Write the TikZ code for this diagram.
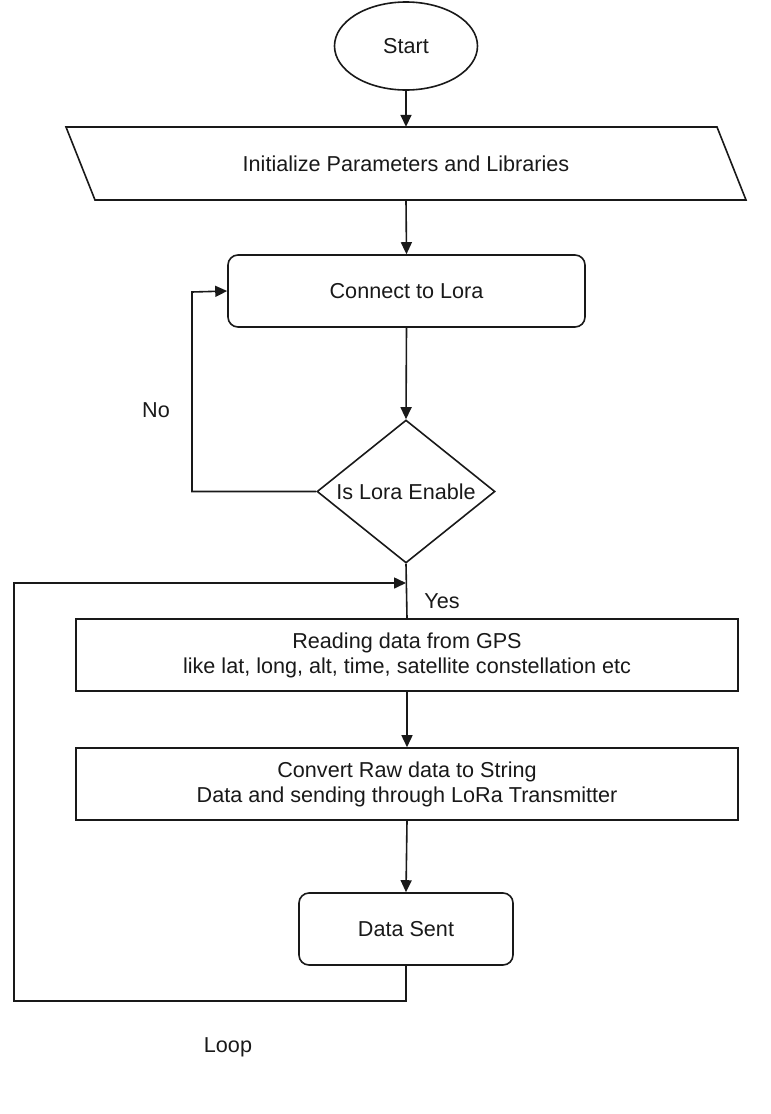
\documentclass[tikz,border=0pt]{standalone}
\usepackage{fontspec}
\setmainfont{Liberation Sans}
\usetikzlibrary{shapes.geometric,arrows.meta}
\begin{document}
\begin{tikzpicture}[x=1pt,y=-1pt,
  every node/.style={font=\fontsize{21.6}{25}\selectfont, text=black!90},
  line/.style={draw=black!90, line width=1.6pt},
  arr/.style={line, -{Triangle[length=12pt,width=11pt]}},
  box/.style={line, rectangle, minimum width=662pt, minimum height=72pt, align=center, inner sep=0pt},
  rbox/.style={line, rectangle, rounded corners=10pt, align=center, inner sep=0pt},
  lbl/.style={inner sep=0pt}]
\useasboundingbox (0,0) rectangle (771,1114);
\node[line, ellipse, minimum width=143pt, minimum height=88pt, inner sep=0pt] (start) at (406,46) {Start};
\node[minimum width=652pt, minimum height=73pt, inner sep=0pt] (init) at (406,163.5) {Initialize Parameters and Libraries};
\draw[line] ([shift={(-311,36.5)}]init.center) -- ([shift={(340,36.5)}]init.center) -- ([shift={(311,-36.5)}]init.center) -- ([shift={(-340,-36.5)}]init.center) -- cycle;
\node[rbox, minimum width=357pt, minimum height=72pt] (conn) at (406.5,291) {Connect to Lora};
\node[line, diamond, minimum width=178pt, minimum height=143pt, inner sep=0pt] (dec) at (406,491.5) {};
\node[lbl] (declbl) at (dec.center) {Is Lora Enable};
\node[box] (read) at (407,655) {Reading data from GPS\\like lat, long, alt, time, satellite constellation etc};
\node[box] (conv) at (407,784) {Convert Raw data to String\\Data and sending through LoRa Transmitter};
\node[rbox, minimum width=214pt, minimum height=72pt] (sent) at (406,929) {Data Sent};
\node[lbl] (no) at (156,410) {No};
\node[lbl] (yes) at (442,601) {Yes};
\node[lbl] (loop) at (228,1047) {Loop};
\coordinate (join) at (406,583);
\draw[arr] (start.south) -- (init.north);
\draw[arr] (init.south) -- (conn.north);
\draw[arr] (conn.south) -- (dec.north);
\draw[arr] (dec.west) -- (192,491.5) -- (192,292) -- (conn.west);
\draw[line] (dec.south) -- (read.north);
\draw[arr] (read.south) -- (conv.north);
\draw[arr] (conv.south) -- (sent.north);
\draw[arr] (sent.south) -- (406,1001) -- (14,1001) -- (14,583) -- (join);
\end{tikzpicture}
\end{document}
